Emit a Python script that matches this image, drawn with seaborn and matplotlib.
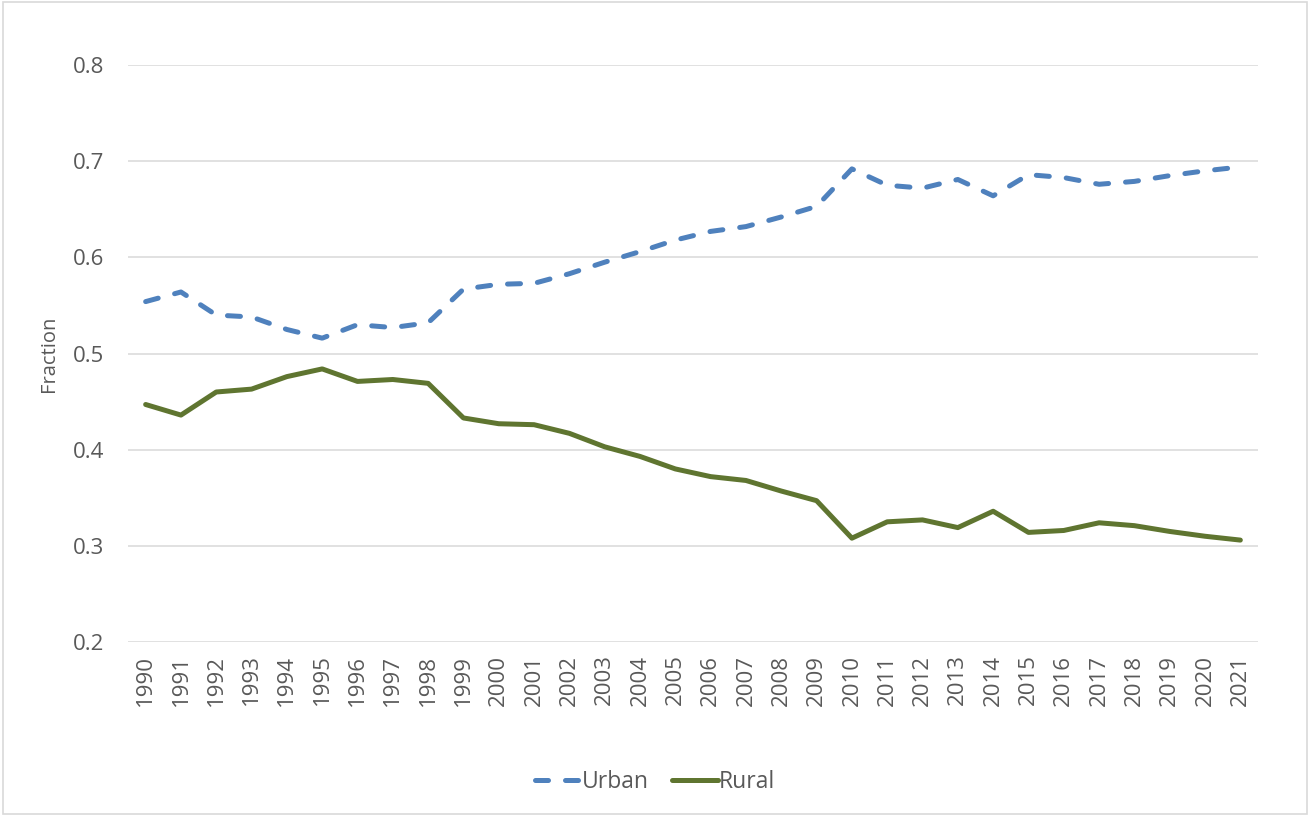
import numpy as np
import pandas as pd
import matplotlib
matplotlib.use("Agg")
import matplotlib.pyplot as plt
import seaborn as sns
from matplotlib.patches import Rectangle

years = [str(y) for y in range(1990, 2022)]
urban = [0.554, 0.564, 0.540, 0.538, 0.525, 0.516, 0.530, 0.527, 0.532, 0.567,
         0.572, 0.573, 0.583, 0.595, 0.606, 0.618, 0.627, 0.632, 0.642, 0.653,
         0.692, 0.675, 0.672, 0.681, 0.664, 0.686, 0.683, 0.676, 0.679, 0.685,
         0.690, 0.694]
rural = [0.447, 0.436, 0.460, 0.463, 0.476, 0.484, 0.471, 0.473, 0.469, 0.433,
         0.427, 0.426, 0.417, 0.403, 0.393, 0.380, 0.372, 0.368, 0.357, 0.347,
         0.308, 0.325, 0.327, 0.319, 0.336, 0.314, 0.316, 0.324, 0.321, 0.315,
         0.310, 0.306]

df = pd.DataFrame({"Year": years, "Urban": urban, "Rural": rural})

sns.set_style("white")
plt.rcParams["font.family"] = ["Open Sans", "DejaVu Sans"]
txt = "#595959"

fig = plt.figure(figsize=(13.1, 8.16), dpi=100)
ax = fig.add_axes([0.0977, 0.2132, 0.8626, 0.7071])

sns.lineplot(data=df, x="Year", y="Urban", ax=ax, color="#4F81BD", linewidth=3.6,
             label="Urban", sort=False)
sns.lineplot(data=df, x="Year", y="Rural", ax=ax, color="#5F7530", linewidth=3.6,
             label="Rural", sort=False)
ax.lines[0].set_dashes((2.6, 3.4))
ax.lines[0].set_dash_capstyle("round")
ax.lines[1].set_solid_capstyle("round")

ax.set_ylim(0.2, 0.8)
ax.set_yticks([0.2, 0.3, 0.4, 0.5, 0.6, 0.7, 0.8])
ax.set_yticklabels(["0.2", "0.3", "0.4", "0.5", "0.6", "0.7", "0.8"])
ax.set_xlim(-0.5, len(years) - 0.5)
ax.set_xticks(range(len(years)))
ax.set_xticklabels(years, rotation=90)
ax.tick_params(axis="both", length=0, colors=txt, labelsize=16)
ax.tick_params(axis="y", pad=17)
ax.tick_params(axis="x", pad=9)
ax.grid(axis="y", color="#D9D9D9", linewidth=1.1)
for s in ["top", "right", "left", "bottom"]:
    ax.spines[s].set_visible(False)
ax.set_xlabel("")
ax.set_ylabel("Fraction", color=txt, fontsize=14.5)
ax.yaxis.set_label_coords(-0.061, 0.5)

ax.get_legend().remove()
h, l = ax.get_legend_handles_labels()
leg = fig.legend(h, l, loc="center", bbox_to_anchor=(0.5, 1 - 782 / 816), ncol=2,
                 frameon=False, fontsize=16.5, handlelength=2.0, handletextpad=0.05,
                 columnspacing=1.0)
for t in leg.get_texts():
    t.set_color(txt)

fig.patches.append(Rectangle((0.002, 0.002), 0.996, 0.996, transform=fig.transFigure,
                             fill=False, edgecolor="#D9D9D9", linewidth=1.2))

fig.savefig("out.png", dpi=100)
